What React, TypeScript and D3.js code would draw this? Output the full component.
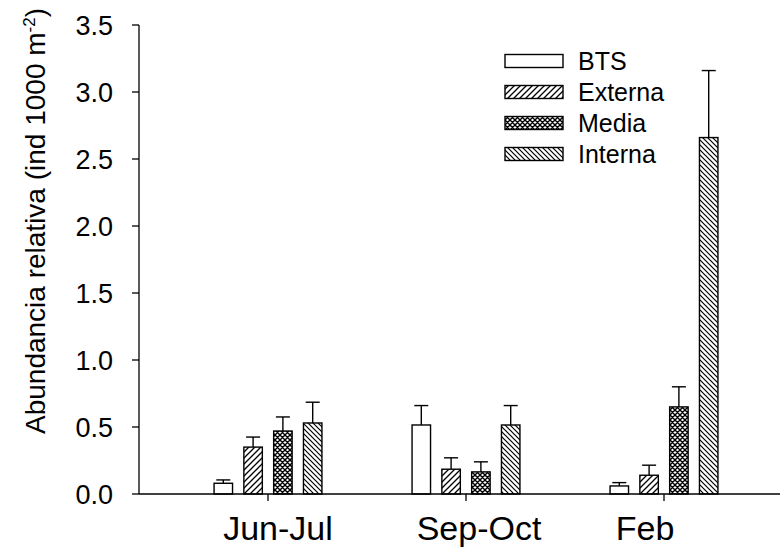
import React from "react";
import * as d3 from "d3";

const categories = ["Jun-Jul", "Sep-Oct", "Feb"];
const seriesNames = ["BTS", "Externa", "Media", "Interna"];
const btsValues = [0.08, 0.515, 0.06];
const btsErrors = [0.025, 0.145, 0.025];
const externaValues = [0.35, 0.185, 0.14];
const externaErrors = [0.075, 0.085, 0.075];
const mediaValues = [0.47, 0.165, 0.65];
const mediaErrors = [0.105, 0.075, 0.15];
const internaValues = [0.53, 0.515, 2.66];
const internaErrors = [0.155, 0.145, 0.5];
const yTicks = [0, 0.5, 1.0, 1.5, 2.0, 2.5, 3.0, 3.5];

const seriesValues = [btsValues, externaValues, mediaValues, internaValues];
const seriesErrors = [btsErrors, externaErrors, mediaErrors, internaErrors];

const W = 780;
const H = 548;
const axisX = 139;
const axisY0 = 494;
const axisYTop = 25;
const FONT = "'Liberation Sans', Arial, Helvetica, sans-serif";
const labelShift = [10, 13, -19];
const fills = ["#fff", "url(#pExterna)", "url(#pMedia)", "url(#pInterna)"];

export default function App() {
  const y = d3.scaleLinear().domain([0, 3.5]).range([axisY0, axisYTop]);
  const x = d3.scaleBand<string>().domain(categories).range([169, 763]).padding(0);
  const bw = x.bandwidth();
  const inner = d3
    .scaleBand<string>()
    .domain(seriesNames)
    .range([-59.6, 59.6])
    .paddingInner(0.38)
    .paddingOuter(0.19);
  const barW = inner.bandwidth();
  const cx = (c: string) => (x(c) as number) + bw / 2;

  return (
    <div style={{ position: "absolute", left: 0, top: 0 }}>
      <svg width={W} height={H} style={{ display: "block", background: "#fff" }} fontFamily={FONT}>
        <defs>
          <pattern id="pExterna" width={6} height={6} patternUnits="userSpaceOnUse">
            <rect width={6} height={6} fill="#fff" />
            <path d="M-1,1 L1,-1 M0,6 L6,0 M5,7 L7,5" stroke="#000" strokeWidth={1.3} />
          </pattern>
          <pattern id="pInterna" width={5} height={5} patternUnits="userSpaceOnUse">
            <rect width={5} height={5} fill="#fff" />
            <path d="M0,0 L5,5 M-1,4 L1,6 M4,-1 L6,1" stroke="#000" strokeWidth={1.2} />
          </pattern>
          <pattern id="pMedia" width={5} height={5} patternUnits="userSpaceOnUse">
            <rect width={5} height={5} fill="#fff" />
            <path d="M0,0 L5,5 M-1,4 L1,6 M4,-1 L6,1 M-1,1 L1,-1 M0,5 L5,0 M4,6 L6,4" stroke="#000" strokeWidth={1.4} />
          </pattern>
        </defs>

        {/* bars */}
        {seriesNames.map((s, si) =>
          categories.map((c, ci) => {
            const v = seriesValues[si][ci];
            const e = seriesErrors[si][ci];
            const bx = cx(c) + (inner(s) as number);
            const mid = bx + barW / 2;
            return (
              <g key={s + c}>
                <line x1={mid} x2={mid} y1={y(v)} y2={y(v + e)} stroke="#000" strokeWidth={1.4} />
                <line x1={mid - 7} x2={mid + 7} y1={y(v + e)} y2={y(v + e)} stroke="#000" strokeWidth={1.4} />
                <rect x={bx} y={y(v)} width={barW} height={y(0) - y(v)} fill={fills[si]} stroke="#000" strokeWidth={1.4} />
              </g>
            );
          })
        )}

        {/* y axis */}
        <line x1={axisX} x2={axisX} y1={axisYTop} y2={axisY0} stroke="#000" strokeWidth={1.3} />
        {yTicks.map((t) => (
          <g key={t}>
            <line x1={axisX - 7} x2={axisX} y1={y(t)} y2={y(t)} stroke="#000" strokeWidth={1.3} />
            <text x={113} y={y(t)} dy="0.36em" textAnchor="end" fontSize={27} fill="#000">
              {t.toFixed(1)}
            </text>
          </g>
        ))}

        {/* x axis */}
        <line x1={axisX} x2={W} y1={axisY0} y2={axisY0} stroke="#000" strokeWidth={1.3} />
        {categories.map((c, i) => (
          <g key={c}>
            <line x1={cx(c)} x2={cx(c)} y1={axisY0} y2={axisY0 + 7} stroke="#000" strokeWidth={1.3} />
            <text x={cx(c) + labelShift[i]} y={540} textAnchor="middle" fontSize={34} fill="#000">
              {c}
            </text>
          </g>
        ))}

        {/* y title */}
        <text transform="translate(45,221) rotate(-90)" textAnchor="middle" fontSize={28} fill="#000">
          Abundancia relativa (ind 1000 m
          <tspan dy={-10} fontSize={17}>-2</tspan>
          <tspan dy={10}>)</tspan>
        </text>

        {/* legend */}
        {seriesNames.map((s, i) => {
          const ly = 61 + i * 31;
          return (
            <g key={s}>
              <rect x={505} y={ly - 6.5} width={58} height={13} fill={fills[i]} stroke="#000" strokeWidth={1.4} />
              <text x={578} y={ly} dy="0.36em" fontSize={25} fill="#000">
                {s}
              </text>
            </g>
          );
        })}
      </svg>
    </div>
  );
}
